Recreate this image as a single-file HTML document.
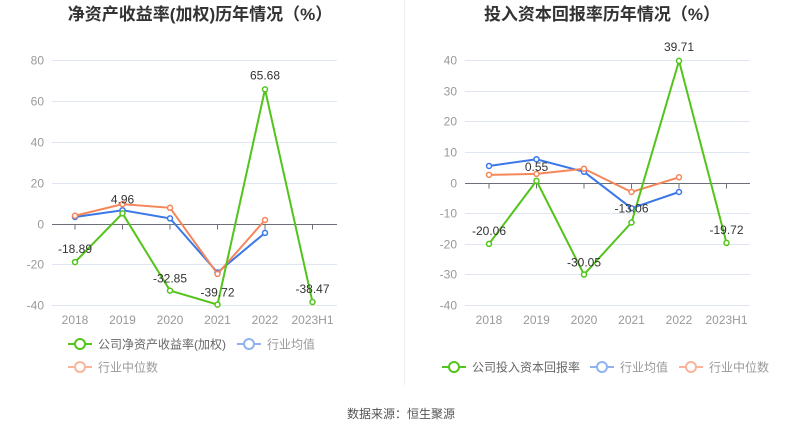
<!DOCTYPE html>
<html><head><meta charset="utf-8"><style>
html,body{margin:0;padding:0;background:#fff;width:803px;height:435px;overflow:hidden}
svg text{font-family:"Liberation Sans","Noto Sans CJK SC",sans-serif}
</style></head><body>
<svg id="s" width="803" height="435" xmlns="http://www.w3.org/2000/svg">
<text x="200" y="20" text-anchor="middle" font-size="17" font-weight="bold" fill="#333">净资产收益率(加权)历年情况（%）</text>
<text x="602" y="20" text-anchor="middle" font-size="17" font-weight="bold" fill="#333">投入资本回报率历年情况（%）</text>
<line x1="404.5" y1="0" x2="404.5" y2="385" stroke="#eee"/>
<text x="401" y="418" text-anchor="middle" font-size="12" fill="#555">数据来源：恒生聚源</text>
</svg>
<script>
const s=document.getElementById('s');const NS="http://www.w3.org/2000/svg";
function el(t,a,txt){const e=document.createElementNS(NS,t);for(const k in a)e.setAttribute(k,a[k]);if(txt!=null)e.textContent=txt;s.appendChild(e);return e;}
const G='#52c41a',B='#3a78e8',O='#f5865a';
const cats=['2018','2019','2020','2021','2022','2023H1'];
function chart(o){
  const y=v=>o.y0-v*o.k;
  o.ticks.forEach(t=>{const yy=Math.round(y(t))+.5;
    if(t!==0)el('line',{x1:o.xl,x2:o.xr,y1:yy,y2:yy,stroke:'#e0e6f1'});
    el('text',{x:o.xl-8,y:yy+4,'text-anchor':'end','font-size':12,fill:'#999'},t);});
  const zy=Math.round(y(0))+.5;
  el('line',{x1:o.xl,x2:o.xr,y1:zy,y2:zy,stroke:'#6e7079'});
  const xs=cats.map((c,i)=>o.x0+i*47.5);
  xs.forEach((x,i)=>{el('line',{x1:x,x2:x,y1:zy,y2:zy+5,stroke:'#6e7079'});
    el('text',{x:x,y:o.xlab,'text-anchor':'middle','font-size':12,fill:'#999'},cats[i]);});
  [[o.avg,B],[o.med,O],[o.main,G]].forEach(([d,c])=>{
    const pts=d.map((v,i)=>[xs[i],y(v)]);
    el('polyline',{points:pts.map(p=>p.join(',')).join(' '),fill:'none',stroke:c,'stroke-width':2});
    pts.forEach(p=>el('circle',{cx:p[0],cy:p[1],r:2.5,fill:'#fff',stroke:c,'stroke-width':1.5}));
  });
  o.main.forEach((v,i)=>el('text',{x:xs[i],y:y(v)+o.lo[i],'text-anchor':'middle','font-size':12,fill:'#333'},v.toFixed(2)));
}
chart({xl:52,xr:337,x0:75,y0:223.5,k:2.042,ticks:[80,60,40,20,0,-20,-40],xlab:324,
 main:[-18.89,4.96,-32.85,-39.72,65.68,-38.47],avg:[3.2,6.5,2.5,-24,-4.6],med:[3.8,9.5,7.7,-24.7,1.7],
 lo:[-9,-10,-8,-8,-10,-9]});
chart({xl:465,xr:750,x0:489,y0:182.5,k:3.0625,ticks:[40,30,20,10,0,-10,-20,-30,-40],xlab:324,
 main:[-20.06,0.55,-30.05,-13.06,39.71,-19.72],avg:[5.4,7.6,3.5,-8.4,-3.1],med:[2.5,2.8,4.5,-3.1,1.7],
 lo:[-9,-10,-8,-10,-10,-9]});
function leg(x,y,c,t,tc){el('line',{x1:x,x2:x+24,y1:y,y2:y,stroke:c,'stroke-width':2});
 el('circle',{cx:x+12,cy:y,r:5,fill:'#fff',stroke:c,'stroke-width':2});
 el('text',{x:x+30,y:y+4.5,'font-size':12,fill:tc||'#666'},t);}
leg(68,344,G,'公司净资产收益率(加权)');leg(237,344,'#8fb2f0','行业均值','#999');leg(68,367,'#f9b49a','行业中位数','#999');
leg(442,367,G,'公司投入资本回报率');leg(590,367,'#8fb2f0','行业均值','#999');leg(679,367,'#f9b49a','行业中位数','#999');
</script>
</body></html>
